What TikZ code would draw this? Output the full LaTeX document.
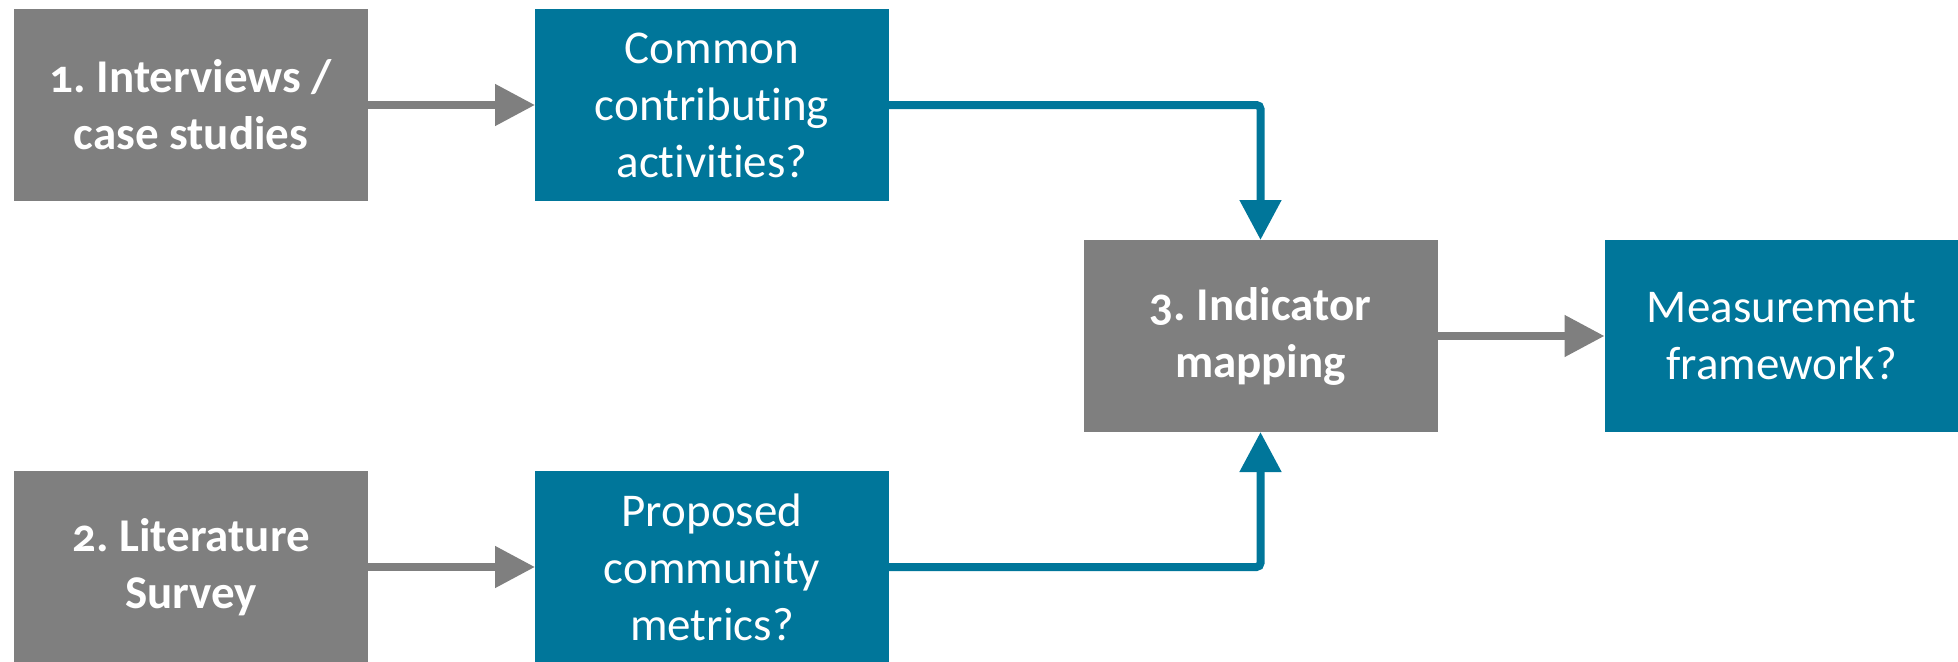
\documentclass[tikz,border=0pt]{standalone}
\usepackage{fontspec}
\setmainfont{Carlito}[Numbers=OldStyle, Ligatures=NoCommon]
\usetikzlibrary{arrows.meta}
\definecolor{boxgray}{HTML}{7F7F7F}
\definecolor{boxblue}{HTML}{00769A}
\tikzset{
  box/.style={minimum width=354pt, minimum height=192pt, inner sep=0pt, outer sep=0pt,
    text=white, align=center, font=\fontsize{47}{57}\selectfont\frenchspacing},
  graybox/.style={box, fill=boxgray, font=\fontsize{47}{57}\selectfont\bfseries\frenchspacing},
  bluebox/.style={box, fill=boxblue},
  grayarrow/.style={draw=boxgray, line width=8pt, -{Triangle[length=40pt,width=40pt]}, color=boxgray},
  bluearrow/.style={draw=boxblue, line width=8pt, rounded corners=4pt, -{Triangle[length=40pt,width=40pt]}, color=boxblue}
}
\begin{document}
\begin{tikzpicture}[x=1pt,y=-1pt]
\useasboundingbox (0,0) rectangle (1958,661);
\node[graybox] (interviews) at (191,105) {1. Interviews /\\case studies};
\node[bluebox] (common) at (712,105) {Common\\contributing\\activities?};
\node[graybox] (literature) at (191,567) {2. Literature\\Survey};
\node[bluebox] (proposed) at (712,567) {Proposed\\community\\metrics?};
\node[graybox] (indicator) at (1260.5,336) {3. Indicator\\mapping};
\node[bluebox] (measure) at (1781.5,336) {Measurement\\framework?};
\draw[grayarrow] (interviews.east) -- (common.west);
\draw[grayarrow] (literature.east) -- (proposed.west);
\draw[grayarrow] (indicator.east) -- (measure.west);
\draw[bluearrow] (common.east) -| (indicator.north);
\draw[bluearrow] (proposed.east) -| (indicator.south);
\end{tikzpicture}
\end{document}
